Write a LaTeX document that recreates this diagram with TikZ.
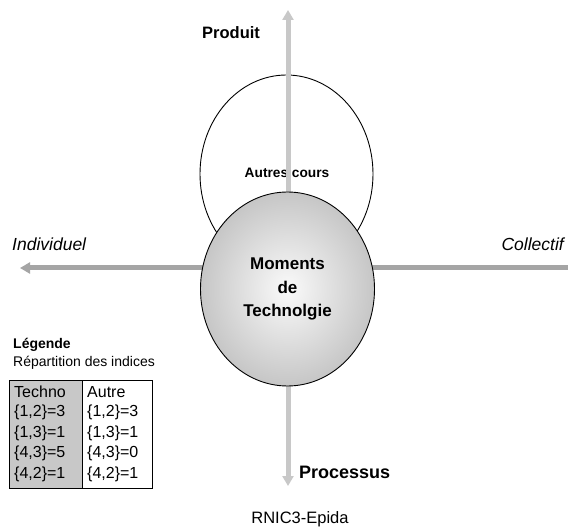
\documentclass[tikz,border=0pt]{standalone}
\usepackage{fontspec}
\setmainfont{Liberation Sans}
\usetikzlibrary{shapes.geometric,arrows.meta}
\definecolor{vaxiscol}{RGB}{200,200,200}
\definecolor{haxiscol}{RGB}{165,165,165}
\definecolor{cellgray}{RGB}{200,200,200}
\definecolor{ballout}{RGB}{198,198,198}
\definecolor{ballin}{RGB}{250,250,250}
\begin{document}
\begin{tikzpicture}[x=1pt,y=-1pt,
  ell/.style={ellipse, draw=black, line width=0.9pt, inner sep=0pt},
  axisline/.style={line width=5pt, {Triangle[width=11pt,length=10pt]}-{Triangle[width=11pt,length=10pt]}},
  lbl/.style={inner sep=0pt, font=\bfseries\fontsize{16.5}{19}\selectfont},
  ilbl/.style={inner sep=0pt, font=\itshape\fontsize{17.5}{20}\selectfont},
  cell/.style={inner sep=0pt, anchor=west, font=\fontsize{16}{19}\selectfont},
  colbox/.style={draw=black, line width=1.2pt, inner sep=0pt, anchor=north west, minimum height=108pt}]
\useasboundingbox (0,0) rectangle (568,529);
\clip (0,0) rectangle (568,529);
\fill[white] (0,0) rectangle (568,529);
% upper ellipse
\node[ell, fill=white, minimum width=173pt, minimum height=198pt] (autres) at (286.5,174) {};
\node[inner sep=0pt, font=\bfseries\fontsize{13.7}{16}\selectfont] (autrestxt) at (287,173) {Autres cours};
% axes
\coordinate (ptop) at (288,10);
\coordinate (pbot) at (288,486);
\coordinate (hleft) at (20,268);
\coordinate (hright) at (578,268);
\draw[axisline, draw=vaxiscol, fill=vaxiscol] (pbot) -- (ptop);
\draw[axisline, draw=haxiscol, fill=haxiscol] (hleft) -- (hright);
% main ellipse
\node[ell, shade, inner color=ballin, outer color=ballout, minimum width=174pt, minimum height=194pt,
      align=center, font=\bfseries\fontsize{17}{23.5}\selectfont] (moments) at (287.5,289) {Moments\\de\\Technolgie};
% axis labels
\node[lbl, anchor=west] (produit) at (202,33) {Produit};
\node[lbl, anchor=west, font=\bfseries\fontsize{18}{21}\selectfont] (processus) at (299,472) {Processus};
\node[ilbl, anchor=west] (individuel) at (12,244) {Individuel};
\node[ilbl, anchor=east] (collectif) at (564,244) {Collectif};
% legend
\node[inner sep=0pt, anchor=west, font=\bfseries\fontsize{14}{16}\selectfont] (legende) at (13,345) {Légende};
\node[inner sep=0pt, anchor=west, font=\fontsize{14}{16}\selectfont] (repart) at (13,363) {Répartition des indices};
\node[colbox, fill=cellgray, minimum width=73pt] (col1) at (9,380) {};
\node[colbox, fill=white, minimum width=70pt] (col2) at (82,380) {};
\node[cell] (t1) at (14,392) {Techno};
\node[cell] (t2) at (14,412.5) {\{1,2\}=3};
\node[cell] (t3) at (14,433) {\{1,3\}=1};
\node[cell] (t4) at (14,453.5) {\{4,3\}=5};
\node[cell] (t5) at (14,474) {\{4,2\}=1};
\node[cell] (a1) at (87,392) {Autre};
\node[cell] (a2) at (87,412.5) {\{1,2\}=3};
\node[cell] (a3) at (87,433) {\{1,3\}=1};
\node[cell] (a4) at (87,453.5) {\{4,3\}=0};
\node[cell] (a5) at (87,474) {\{4,2\}=1};
% footer
\node[inner sep=0pt, font=\fontsize{16.5}{19}\selectfont] (footer) at (300,519) {RNIC3-Epida};
\end{tikzpicture}
\end{document}
